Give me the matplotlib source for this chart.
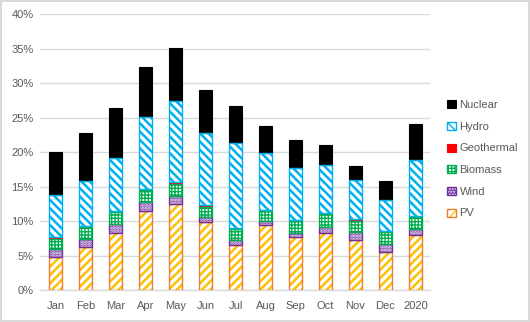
import matplotlib
matplotlib.use("Agg")
import matplotlib.pyplot as plt
from matplotlib.patches import Patch
from matplotlib.legend_handler import HandlerTuple
import numpy as np

plt.rcParams['font.family'] = ['Liberation Sans', 'DejaVu Sans']

categories = ["Jan", "Feb", "Mar", "Apr", "May", "Jun", "Jul", "Aug", "Sep", "Oct", "Nov", "Dec", "2020"]
pv         = [4.72, 6.29, 8.33, 11.52, 12.54, 9.92, 6.58, 9.49, 7.65, 8.23, 7.26, 5.47, 8.03]
wind       = [1.16, 1.16, 1.21, 1.31, 1.11, 0.68, 0.68, 0.58, 0.68, 0.97, 1.21, 1.21, 0.87]
biomass    = [1.52, 1.65, 1.79, 1.69, 1.79, 1.50, 1.64, 1.45, 1.64, 1.79, 1.60, 1.69, 1.65]
geothermal = [0.23, 0.15, 0.19, 0.15, 0.29, 0.24, 0.15, 0.14, 0.24, 0.24, 0.24, 0.25, 0.20]
hydro      = [6.19, 6.63, 7.65, 10.45, 11.71, 10.46, 12.35, 8.23, 7.51, 6.92, 5.66, 4.45, 8.13]
nuclear    = [6.20, 6.97, 7.26, 7.26, 7.70, 6.24, 5.30, 3.91, 4.06, 2.90, 2.03, 2.76, 5.22]
yticks = [0, 5, 10, 15, 20, 25, 30, 35, 40]
ytick_labels = ["0%", "5%", "10%", "15%", "20%", "25%", "30%", "35%", "40%"]

series = [
    ("PV", pv, dict(hatch="////", hc="#FFC000", face="white", ec="#ED7D31", hlw=1.8)),
    ("Wind", wind, dict(hatch="......", hc="white", face="#7030A0", ec="#7030A0", hlw=1.4)),
    ("Biomass", biomass, dict(hatch="+++++", hc="#00B050", face="white", ec="#00B050", hlw=1.0)),
    ("Geothermal", geothermal, dict(hatch=None, hc=None, face="#FF0000", ec="#FF0000", hlw=1.0)),
    ("Hydro", hydro, dict(hatch="\\\\\\\\", hc="#00B0F0", face="white", ec="#00B0F0", hlw=1.8)),
    ("Nuclear", nuclear, dict(hatch=None, hc=None, face="#000000", ec="#000000", hlw=1.0)),
]

fig = plt.figure(figsize=(5.30, 3.22), dpi=100)
fig.patch.set_edgecolor("#D9D9D9")
fig.patch.set_linewidth(1.5)
ax = fig.add_axes([0.0764, 0.0994, 0.7358, 0.8556])

x = np.arange(len(categories))
w = 0.42
bottom = np.zeros(len(categories))
handles = {}
for name, vals, st in series:
    vals = np.array(vals)
    if st["hatch"]:
        with plt.rc_context({"hatch.linewidth": st["hlw"]}):
            bars = ax.bar(x, vals, w, bottom=bottom, color=st["face"], edgecolor=st["hc"],
                          hatch=st["hatch"], linewidth=0, zorder=3)
            hp = Patch(facecolor=st["face"], edgecolor=st["hc"], hatch=st["hatch"], linewidth=0)
        for b in bars:
            if hasattr(b, "set_hatch_linewidth"):
                b.set_hatch_linewidth(st["hlw"])
        if hasattr(hp, "set_hatch_linewidth"):
            hp.set_hatch_linewidth(st["hlw"])
        ax.bar(x, vals, w, bottom=bottom, fill=False, edgecolor=st["ec"],
               linewidth=1.0, zorder=4)
        h = (hp, Patch(fill=False, edgecolor=st["ec"], linewidth=1.0))
    else:
        ax.bar(x, vals, w, bottom=bottom, color=st["face"], edgecolor=st["ec"],
               linewidth=0.8, zorder=3)
        h = Patch(facecolor=st["face"], edgecolor=st["ec"], linewidth=0.8)
    handles[name] = h
    bottom += vals

ax.set_xlim(-0.5, len(categories) - 0.5)
ax.set_ylim(0, 40)
ax.set_yticks(yticks)
ax.set_yticklabels(ytick_labels)
ax.set_xticks(x)
ax.set_xticklabels(categories)
ax.grid(axis="y", color="#D9D9D9", linewidth=1.0, zorder=0)
ax.set_axisbelow(True)
for s in ["top", "right", "left"]:
    ax.spines[s].set_visible(False)
ax.spines["bottom"].set_color("#D9D9D9")
ax.spines["bottom"].set_linewidth(1.0)
ax.tick_params(axis="both", length=0, labelsize=8, labelcolor="#595959", pad=5)
ax.tick_params(axis="x", pad=8)

order = ["Nuclear", "Hydro", "Geothermal", "Biomass", "Wind", "PV"]
leg = fig.legend([handles[n] for n in order], order, loc="upper left",
                 bbox_to_anchor=(0.825, 0.72), frameon=False, fontsize=8,
                 labelspacing=1.05, handlelength=0.75, handleheight=0.75,
                 handletextpad=0.35, labelcolor="#595959",
                 handler_map={tuple: HandlerTuple(ndivide=1)})

fig.savefig("out.png", dpi=100)
